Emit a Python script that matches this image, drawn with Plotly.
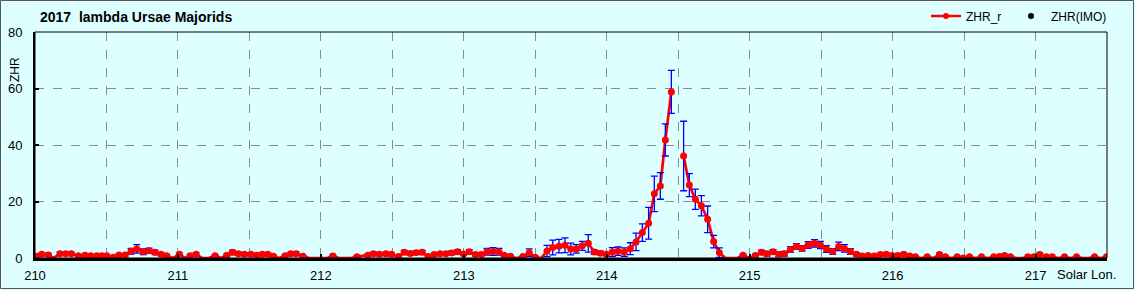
import plotly.graph_objects as go

# ---- data ----
lon = [210.007, 210.047, 210.093, 210.175, 210.215, 210.254, 210.303, 210.350, 210.390, 210.432,
       210.467, 210.502, 210.548, 210.588, 210.630, 210.672, 210.712, 210.758, 210.798, 210.840,
       210.882, 210.922, 211.010, 211.085, 211.127, 211.260, 211.342, 211.381, 211.423, 211.465,
       211.510, 211.552, 211.591, 211.629, 211.668, 211.750, 211.790, 211.827, 211.874, 212.084,
       212.252, 212.329, 212.368, 212.410, 212.455, 212.494, 212.543, 212.583, 212.625, 212.667,
       212.709, 212.751, 212.793, 212.835, 212.875, 212.915, 212.957, 212.998, 213.038, 213.082,
       213.122, 213.162, 213.204, 213.246, 213.283, 213.326, 213.414, 213.458, 213.500, 213.582,
       213.622, 213.666, 213.708, 213.748, 213.787, 213.829, 213.871, 213.913, 213.955, 213.997,
       214.039, 214.079, 214.123, 214.165, 214.205, 214.249, 214.293, 214.333, 214.375, 214.410,
       214.452, 214.494, 214.538, 214.578, 214.620, 214.662, 214.706, 214.748, 214.788, 214.954,
       215.040, 215.082, 215.122, 215.164, 215.203, 215.243, 215.285, 215.327, 215.367, 215.409,
       215.453, 215.495, 215.537, 215.581, 215.623, 215.663, 215.705, 215.747, 215.787, 215.829,
       215.873, 215.915, 215.955, 215.997, 216.036, 216.078, 216.120, 216.160, 216.242, 216.328,
       216.370, 216.452, 216.494, 216.538, 216.622, 216.708, 216.748, 216.783, 216.825, 216.946,
       216.988, 217.030, 217.077, 217.117, 217.203, 217.287, 217.413, 217.497]

zhr = [0.6, 1.3, 1.1, 1.5, 1.5, 1.5, 0.8, 1.0, 0.8, 0.8,
       0.8, 0.8, 0.3, 1.1, 1.1, 2.4, 3.2, 2.2, 2.6, 2.0,
       1.3, 0.8, 1.3, 0.8, 1.3, 0.8, 1.0, 2.0, 1.5, 1.3,
       1.3, 1.0, 1.3, 1.3, 0.6, 0.8, 1.5, 1.5, 0.6, 0.7,
       0.4, 1.0, 1.5, 1.3, 1.5, 1.3, 0.5, 2.0, 1.6, 1.9,
       2.0, 0.5, 1.2, 1.5, 1.5, 1.8, 2.2, 1.4, 2.2, 1.2,
       1.2, 2.2, 2.3, 2.2, 1.0, 0.6, 0.5, 1.9, 0.3, 2.5,
       3.7, 4.2, 4.5, 3.2, 3.2, 4.3, 5.2, 2.1, 1.7, 1.3,
       2.1, 2.4, 2.1, 3.3, 5.7, 9.0, 12.3, 22.7, 25.5, 41.8,
       58.8, None, 36.1, 25.8, 20.8, 18.5, 13.7, 5.8, 1.9, 1.0,
       0.9, 2.0, 1.5, 2.2, 1.3, 1.5, 3.0, 4.1, 3.4, 4.6,
       5.2, 4.6, 3.2, 2.3, 4.1, 3.4, 2.3, 1.3, 0.7, 0.9,
       0.7, 1.2, 1.3, 0.9, 0.9, 1.3, 0.7, 0.4, 0.4, 1.2,
       0.4, 0.4, 0.0, 0.4, 0.4, 0.4, 0.5, 0.9, 0.4, 0.4,
       0.4, 1.2, 0.4, 0.4, 0.4, 0.4, 0.4, 0.4]

err = [0.4, 0.5, 0.5, 0.6, 0.6, 0.6, 0.3, 0.4, 0.3, 0.3,
       0.3, 0.3, 0.2, 0.4, 0.4, 1.0, 1.5, 1.0, 0.9, 0.8,
       0.5, 0.3, 0.5, 0.3, 0.5, 0.3, 0.4, 0.8, 0.6, 0.5,
       0.5, 0.4, 0.5, 0.5, 0.3, 0.3, 0.6, 0.6, 0.3, 0.3,
       0.2, 0.4, 0.6, 0.5, 0.6, 0.5, 0.2, 0.7, 0.6, 0.7,
       0.7, 0.2, 0.5, 0.6, 0.6, 0.7, 0.8, 0.5, 0.8, 0.5,
       0.5, 1.2, 1.4, 1.2, 0.4, 0.3, 0.2, 1.3, 0.2, 2.0,
       2.6, 2.4, 2.6, 2.1, 1.5, 1.6, 3.1, 0.8, 0.7, 0.5,
       1.6, 1.5, 1.5, 2.1, 3.1, 3.1, 5.6, 6.3, 4.7, 5.7,
       7.6, None, 12.3, 4.1, 3.6, 3.6, 4.7, 2.2, 1.7, 0.4,
       0.5, 0.8, 0.8, 0.8, 0.8, 0.8, 1.0, 1.0, 1.0, 1.2,
       1.3, 1.3, 1.2, 1.0, 1.5, 1.3, 1.0, 0.6, 0.3, 0.4,
       0.3, 0.5, 0.5, 0.4, 0.4, 0.5, 0.3, 0.2, 0.2, 0.5,
       0.2, 0.2, 0.0, 0.2, 0.2, 0.2, 0.2, 0.4, 0.2, 0.2,
       0.2, 0.5, 0.2, 0.2, 0.2, 0.2, 0.2, 0.2]

# longitudes where the ZHR_r curve drops to zero between plotted points
dip_lon = [210.130, 210.966, 211.050, 211.169, 211.215, 211.302, 211.708, 211.918, 211.960,
           212.002, 212.044, 212.126, 212.168, 212.210, 213.370, 213.542, 214.830, 214.872,
           214.914, 214.998, 216.202, 216.286, 216.412, 216.580, 216.664, 216.867, 216.909,
           217.161, 217.245, 217.329, 217.371, 217.455]

x_ticks = [210, 211, 212, 213, 214, 215, 216, 217]
x_ticktext = ["210", "211", "212", "213", "214", "215", "216", "217"]
y_ticks = [0, 20, 40, 60, 80]

title_text = "2017\u00a0 lambda Ursae Majorids"
series_name = "ZHR_r"
imo_name = "ZHR(IMO)"

# ---- build ----
line_pts = sorted(list(zip(lon, zhr)) + [(d, 0.0) for d in dip_lon], key=lambda p: p[0])
line_x = [p[0] for p in line_pts]
line_y = [p[1] for p in line_pts]

BG = "#DDFFFF"
RED = "#FF0000"
FONT = "Liberation Sans, Arial, sans-serif"

W, H = 1135, 290
L, R, T, B = 35, 28, 32, 32
pw, ph = W - L - R, H - T - B

fig = go.Figure()
fig.add_trace(go.Scatter(x=line_x, y=line_y, mode="lines", connectgaps=False,
                         line=dict(color=RED, width=2.7), showlegend=False, hoverinfo="skip"))
fig.add_trace(go.Scatter(x=lon, y=zhr, mode="markers",
                         marker=dict(color=RED, size=7),
                         error_y=dict(type="data", array=err, visible=True,
                                      color="#0000FF", thickness=1.3, width=3.5),
                         showlegend=False))
fig.add_trace(go.Scatter(x=[None], y=[None], mode="lines+markers", name=series_name,
                         line=dict(color=RED, width=2.5), marker=dict(color=RED, size=6),
                         legend="legend"))
fig.add_trace(go.Scatter(x=[None], y=[None], mode="markers", name=imo_name,
                         marker=dict(color="black", size=6), legend="legend2"))

legend_common = dict(orientation="h", xanchor="left", yanchor="middle",
                     bgcolor="rgba(0,0,0,0)", font=dict(size=12), borderwidth=0)

fig.update_layout(
    width=W, height=H,
    margin=dict(l=L, r=R, t=T, b=B, pad=0, autoexpand=False),
    paper_bgcolor=BG, plot_bgcolor=BG,
    font=dict(family=FONT, size=13, color="black"),
    showlegend=True,
    legend=dict(legend_common, x=(926 - L) / pw, y=1 + (T - 16) / ph),
    legend2=dict(legend_common, x=(1011 - L) / pw, y=1 + (T - 16) / ph),
    xaxis=dict(range=[210, 217.5], tickvals=x_ticks, ticktext=x_ticktext,
               showgrid=True, gridcolor="#8C8C8C", griddash="dash", gridwidth=1,
               minor=dict(dtick=0.5, tick0=210, showgrid=True, gridcolor="#8C8C8C",
                          griddash="dash", gridwidth=1, ticks=""),
               ticks="inside", ticklen=4, tickcolor="black", tickwidth=2,
               showline=True, linecolor="black", linewidth=2.5,
               zeroline=False, ticklabelstandoff=4, tickfont=dict(size=13)),
    yaxis=dict(range=[0, 80], tickvals=y_ticks,
               showgrid=True, gridcolor="#8C8C8C", griddash="dash", gridwidth=1,
               ticks="inside", ticklen=4, tickcolor="black", tickwidth=1.5,
               showline=True, linecolor="black", linewidth=2,
               zeroline=False, ticklabelstandoff=8, tickfont=dict(size=13)),
    shapes=[
        dict(type="rect", xref="paper", yref="paper", x0=0, x1=1, y0=0, y1=1,
             line=dict(color="black", width=1), layer="above"),
        dict(type="rect", xref="paper", yref="paper",
             x0=-(L - 0.5) / pw, x1=1 + (R - 1.5) / pw,
             y0=-(B - 1.5) / ph, y1=1 + (T - 0.5) / ph,
             line=dict(color="#555555", width=1), layer="below"),
    ],
    annotations=[
        dict(text=title_text, xref="paper", yref="paper",
             x=(38 - L) / pw, y=1 + (T - 17) / ph, xanchor="left", yanchor="middle",
             showarrow=False, font=dict(size=14, family=FONT, color="black", weight="bold")),
        dict(text="ZHR", xref="paper", yref="paper", textangle=-90,
             x=-(L - 15) / pw, y=1 - (70 - T) / ph, xanchor="center", yanchor="middle",
             showarrow=False, font=dict(size=12, family=FONT)),
        dict(text="Solar Lon.", xref="paper", yref="paper",
             x=(1055 - L) / pw, y=-(274 - H + B) / ph, xanchor="left", yanchor="middle",
             showarrow=False, font=dict(size=13, family=FONT)),
    ],
)

fig.write_html("out.html")
